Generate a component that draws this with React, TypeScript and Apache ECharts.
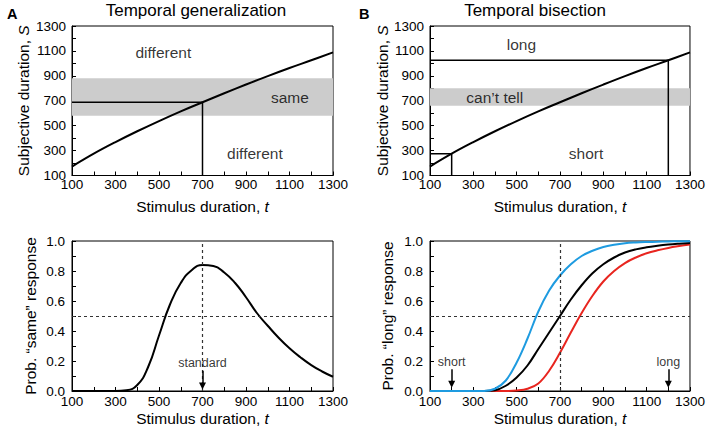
import React, { useEffect, useRef } from 'react';
import * as echarts from 'echarts';

// ---------- data ----------
const durations = [100, 200, 300, 400, 500, 600, 700, 800, 900, 1000, 1100, 1200, 1300];
const subjectiveS = [172, 275, 368, 455, 537, 615, 688, 760, 830, 898, 963, 1025, 1088];

const probDurations = [100, 150, 200, 250, 300, 350, 400, 450, 500, 550, 600, 650, 700, 750, 800, 850, 900, 950, 1000, 1050, 1100, 1150, 1200, 1250, 1300];
const probSame = [0, 0, 0, 0, 0, 0.005, 0.04, 0.16, 0.37, 0.575, 0.72, 0.805, 0.84, 0.833, 0.79, 0.72, 0.625, 0.52, 0.435, 0.355, 0.285, 0.225, 0.173, 0.13, 0.095];
const probLongBlack = [0, 0, 0, 0, 0, 0, 0.005, 0.035, 0.09, 0.17, 0.28, 0.39, 0.5, 0.61, 0.705, 0.785, 0.845, 0.89, 0.923, 0.944, 0.958, 0.968, 0.976, 0.982, 0.987];
const probLongBlue = [0, 0, 0, 0, 0, 0, 0.015, 0.07, 0.19, 0.35, 0.53, 0.67, 0.77, 0.845, 0.9, 0.935, 0.96, 0.975, 0.985, 0.99, 0.993, 0.995, 0.997, 0.998, 0.999];
const probLongRed = [0, 0, 0, 0, 0, 0, 0, 0, 0.003, 0.015, 0.05, 0.135, 0.255, 0.39, 0.52, 0.635, 0.73, 0.8, 0.853, 0.89, 0.918, 0.938, 0.954, 0.966, 0.976];

const standardDuration = 700;
const shortAnchor = 200;
const longAnchor = 1200;
const sameBand = [580, 880];
const cantTellBand = [660, 800];

const tTickLabels = [100, 300, 500, 700, 900, 1100, 1300];
const sTickLabels = [100, 300, 500, 700, 900, 1100, 1300];
const probTickLabels = [0, 0.2, 0.4, 0.6, 0.8, 1.0];

// ---------- styles ----------
const FONT = '"Liberation Sans", Arial, Helvetica, sans-serif';
const BLACK = '#000';
const BLUE = '#1e9be0';
const RED = '#e8251f';
const GRAY_BAND = '#cccccc';

const zip = (xs: number[], ys: number[]) => xs.map((x, i) => [x, ys[i]]);
const sAt = (t: number) => subjectiveS[durations.indexOf(t)];

const tFormatter = (v: number) => (tTickLabels.includes(Math.round(v)) ? String(Math.round(v)) : '');
const sFormatter = (v: number) => (sTickLabels.includes(Math.round(v)) ? String(Math.round(v)) : '');
const pFormatter = (v: number) => (probTickLabels.some((p) => Math.abs(p - v) < 1e-6) ? v.toFixed(1) : '');

const italicRich = { i: { fontStyle: 'italic', fontSize: 15.5, fontFamily: FONT, color: BLACK } };

function xAxis(gridIndex: number, nameGap: number, labelMargin: number) {
  return {
    gridIndex,
    type: 'value',
    min: 100,
    max: 1300,
    interval: 100,
    name: 'Stimulus duration, {i|t}',
    nameLocation: 'middle',
    nameGap,
    nameTextStyle: { fontSize: 15.5, color: BLACK, fontFamily: FONT, rich: italicRich },
    axisLine: { show: true, lineStyle: { color: BLACK, width: 1 } },
    axisTick: { show: true, inside: true, length: 4, lineStyle: { color: BLACK, width: 1 } },
    axisLabel: { formatter: tFormatter, color: BLACK, fontSize: 13.5, fontFamily: FONT, margin: labelMargin },
    splitLine: { show: false },
  };
}

function sAxis(gridIndex: number, nameGap: number) {
  return {
    gridIndex,
    type: 'value',
    min: 100,
    max: 1300,
    interval: 100,
    name: 'Subjective duration, {i|S}',
    nameLocation: 'middle',
    nameGap,
    nameTextStyle: { fontSize: 15.5, color: BLACK, fontFamily: FONT, rich: italicRich },
    axisLine: { show: true, lineStyle: { color: BLACK, width: 1 } },
    axisTick: { show: true, inside: true, length: 4, lineStyle: { color: BLACK, width: 1 } },
    axisLabel: { formatter: sFormatter, color: BLACK, fontSize: 13.5, fontFamily: FONT, margin: 6 },
    splitLine: { show: false },
  };
}

function pAxis(gridIndex: number, name: string, nameGap: number) {
  return {
    gridIndex,
    type: 'value',
    min: 0,
    max: 1,
    interval: 0.1,
    name,
    nameLocation: 'middle',
    nameGap,
    nameTextStyle: { fontSize: 15.5, color: BLACK, fontFamily: FONT },
    axisLine: { show: true, lineStyle: { color: BLACK, width: 1 } },
    axisTick: { show: true, inside: true, length: 4, lineStyle: { color: BLACK, width: 1 } },
    axisLabel: { formatter: pFormatter, color: BLACK, fontSize: 13.5, fontFamily: FONT, margin: 7 },
    splitLine: { show: false },
  };
}

function textLabels(idx: number, items: { name: string; value: number[] }[], fontSize: number) {
  return {
    type: 'scatter',
    xAxisIndex: idx,
    yAxisIndex: idx,
    symbolSize: 1,
    itemStyle: { color: 'rgba(0,0,0,0)' },
    silent: true,
    z: 6,
    label: {
      show: true,
      position: 'inside',
      formatter: (p: any) => p.name,
      color: BLACK,
      fontSize,
      fontFamily: FONT,
    },
    data: items,
  };
}

function arrow(idx: number, t: number, from: number, to: number) {
  return {
    type: 'line',
    xAxisIndex: idx,
    yAxisIndex: idx,
    data: [],
    silent: true,
    markLine: {
      silent: true,
      animation: false,
      symbol: ['none', 'triangle'],
      symbolSize: 7,
      label: { show: false },
      lineStyle: { color: BLACK, width: 1.5, type: 'solid' },
      itemStyle: { color: BLACK },
      data: [[{ coord: [t, from] }, { coord: [t, to] }]],
    },
  };
}

function dashedGuides(idx: number) {
  return {
    type: 'line',
    xAxisIndex: idx,
    yAxisIndex: idx,
    data: [],
    silent: true,
    markLine: {
      silent: true,
      animation: false,
      symbol: ['none', 'none'],
      label: { show: false },
      lineStyle: { color: '#333', width: 1.2, type: [3, 3] },
      data: [{ xAxis: standardDuration }, { yAxis: 0.5 }],
    },
  };
}

function band(idx: number, range: number[]) {
  return {
    type: 'line',
    xAxisIndex: idx,
    yAxisIndex: idx,
    data: [],
    silent: true,
    z: 1,
    markArea: {
      silent: true,
      itemStyle: { color: GRAY_BAND },
      data: [[{ yAxis: range[0] }, { yAxis: range[1] }]],
    },
  };
}

function curve(idx: number, data: number[][], color: string, width = 2, smooth = 0.4) {
  return {
    type: 'line',
    xAxisIndex: idx,
    yAxisIndex: idx,
    data,
    smooth,
    showSymbol: false,
    symbol: 'none',
    silent: true,
    z: 4,
    lineStyle: { color, width },
  };
}

function guide(idx: number, data: number[][]) {
  return {
    type: 'line',
    xAxisIndex: idx,
    yAxisIndex: idx,
    data,
    showSymbol: false,
    symbol: 'none',
    silent: true,
    z: 3,
    lineStyle: { color: BLACK, width: 1.5 },
  };
}

export default function App() {
  const ref = useRef<HTMLDivElement>(null);

  useEffect(() => {
    if (!ref.current) return;
    const chart = echarts.init(ref.current, null, { renderer: 'svg' });
    const sCurve = zip(durations, subjectiveS);
    const sStd = sAt(standardDuration);
    const sShort = sAt(shortAnchor);
    const sLong = sAt(longAnchor);

    const option: any = {
      animation: false,
      backgroundColor: '#fff',
      textStyle: { fontFamily: FONT },
      grid: [
        { left: 72, top: 26, width: 261, height: 149.5, show: true, borderColor: BLACK, borderWidth: 1, backgroundColor: 'transparent' },
        { left: 430, top: 26, width: 261, height: 149.5, show: true, borderColor: BLACK, borderWidth: 1, backgroundColor: 'transparent' },
        { left: 72, top: 241, width: 261, height: 150, show: true, borderColor: BLACK, borderWidth: 1, backgroundColor: 'transparent' },
        { left: 430, top: 241, width: 261, height: 150, show: true, borderColor: BLACK, borderWidth: 1, backgroundColor: 'transparent' },
      ],
      xAxis: [xAxis(0, 23, 2), xAxis(1, 23, 2), xAxis(2, 19, 3), xAxis(3, 19, 3)],
      yAxis: [
        sAxis(0, 41),
        sAxis(1, 40),
        pAxis(2, 'Prob. \u201Csame\u201D response', 34),
        pAxis(3, 'Prob. \u201Clong\u201D response', 35),
      ],
      graphic: [
        { type: 'text', left: 7, top: 6, style: { text: 'A', fontSize: 14.5, fontWeight: 'bold', fontFamily: FONT, fill: BLACK } },
        { type: 'text', left: 359, top: 6, style: { text: 'B', fontSize: 14.5, fontWeight: 'bold', fontFamily: FONT, fill: BLACK } },
        { type: 'text', x: 196, y: 10, style: { text: 'Temporal generalization', fontSize: 17, fontFamily: FONT, fill: BLACK, textAlign: 'center', textVerticalAlign: 'middle' } },
        { type: 'text', x: 535, y: 10, style: { text: 'Temporal bisection', fontSize: 17, fontFamily: FONT, fill: BLACK, textAlign: 'center', textVerticalAlign: 'middle' } },
      ],
      series: [
        // Panel A top
        band(0, sameBand),
        guide(0, [[100, sStd], [standardDuration, sStd], [standardDuration, 100]]),
        curve(0, sCurve, BLACK, 2),
        textLabels(0, [
          { name: 'different', value: [520, 1085] },
          { name: 'same', value: [1102, 728] },
          { name: 'different', value: [941, 277] },
        ], 15.5),
        // Panel B top
        band(1, cantTellBand),
        guide(1, [[100, sLong], [longAnchor, sLong], [longAnchor, 100]]),
        guide(1, [[100, sShort], [shortAnchor, sShort], [shortAnchor, 100]]),
        curve(1, sCurve, BLACK, 2),
        textLabels(1, [
          { name: 'long', value: [522, 1155] },
          { name: 'can\u2019t tell', value: [399, 726] },
          { name: 'short', value: [820, 280] },
        ], 15.5),
        // Panel A bottom
        dashedGuides(2),
        curve(2, zip(probDurations, probSame), BLACK, 2, 0.5),
        arrow(2, standardDuration, 0.135, 0.033),
        textLabels(2, [{ name: 'standard', value: [standardDuration, 0.187] }], 12.5),
        // Panel B bottom
        dashedGuides(3),
        curve(3, zip(probDurations, probLongRed), RED, 2),
        curve(3, zip(probDurations, probLongBlack), BLACK, 2),
        curve(3, zip(probDurations, probLongBlue), BLUE, 2),
        arrow(3, shortAnchor, 0.145, 0.045),
        arrow(3, longAnchor, 0.145, 0.045),
        textLabels(3, [
          { name: 'short', value: [shortAnchor, 0.195] },
          { name: 'long', value: [longAnchor, 0.195] },
        ], 12.5),
      ],
    };
    chart.setOption(option);
    return () => chart.dispose();
  }, []);

  return <div ref={ref} style={{ position: 'fixed', left: 0, top: 0, width: 708, height: 433 }} />;
}
